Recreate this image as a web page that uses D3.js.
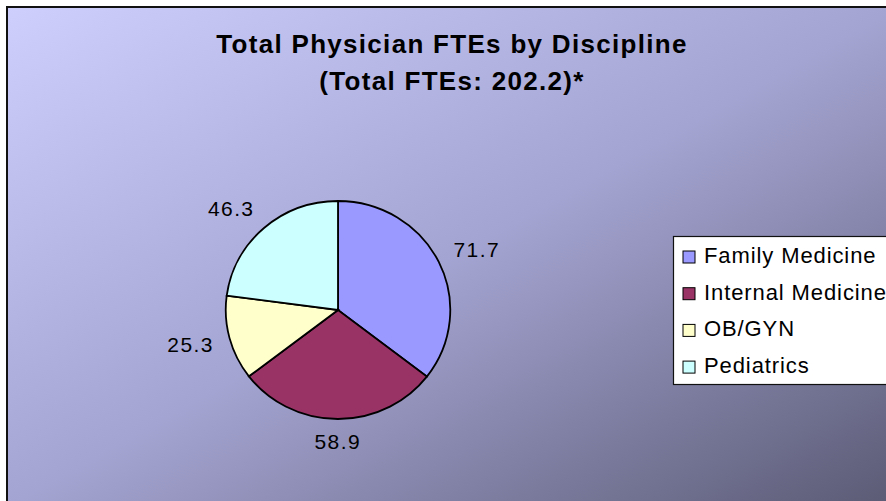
<!DOCTYPE html>
<html>
<head>
<meta charset="utf-8">
<script src="https://cdn.jsdelivr.net/npm/d3@7"></script>
<style>
	body { margin: 0; background: #fff; }
	svg text { font-family: Arial, "Liberation Sans", sans-serif; fill: #000; }
</style>
</head>
<body>
<div id="chart"></div>
<script>
// Chart data
const titleLines = ['Total Physician FTEs by Discipline', '(Total FTEs: 202.2)*'];
const disciplines = ['Family Medicine', 'Internal Medicine', 'OB/GYN', 'Pediatrics'];
const ftes = [71.7, 58.9, 25.3, 46.3];

function drawPie(container){
	const width = 886,
		height = 501,
		cx = 338,
		cy = 310,
		radius = 109,
		stretchX = 1.03;

	const svg = d3.select(container)
		.append('svg')
			.attr('width', width)
			.attr('height', height);

	// Background gradient runs corner to corner of the chart area
	const grad = svg.append('defs')
		.append('linearGradient')
			.attr('id', 'bg')
			.attr('x1', 0).attr('y1', 0)
			.attr('x2', 1).attr('y2', 1);
	grad.append('stop').attr('offset', '0%').attr('stop-color', '#cfcffd');
	grad.append('stop').attr('offset', '50%').attr('stop-color', '#a4a4d2');
	grad.append('stop').attr('offset', '100%').attr('stop-color', '#5a5a74');

	svg.append('rect')
		.attr('x', 7)
		.attr('y', 7)
		.attr('width', 892)
		.attr('height', 500)
		.style('fill', 'url(#bg)')
		.style('stroke', '#111')
		.style('stroke-width', 2);

	// Title
	svg.append('text')
		.attr('x', 452)
		.attr('text-anchor', 'middle')
		.style('font-size', '26px')
		.style('font-weight', 'bold')
		.style('letter-spacing', '1.3px')
		.selectAll('tspan')
		.data(titleLines)
		.enter()
		.append('tspan')
			.attr('x', 452)
			.attr('y', (d, i) => 53 + i * 37)
			.text(d => d);

	const color = d3.scaleOrdinal()
		.domain(disciplines)
		.range(['#9999ff', '#993366', '#ffffcc', '#ccffff']);

	const pie = d3.pie()
		.sort(null)
		.value(d => d.value);

	const data = disciplines.map((name, i) => ({name: name, value: ftes[i]}));
	const arcs = pie(data);

	const arc = d3.arc()
		.innerRadius(0)
		.outerRadius(radius);

	const pieG = svg.append('g')
		.attr('transform', `translate(${cx},${cy}) scale(${stretchX},1)`);

	pieG.selectAll('path')
		.data(arcs)
		.enter()
		.append('path')
			.attr('d', arc)
			.style('fill', d => color(d.data.name))
			.style('stroke', '#000')
			.style('stroke-width', 1.8)
			.attr('vector-effect', 'non-scaling-stroke');

	// Value labels: the label box touches a point just outside the rim
	const labelR = radius + 13,
		halfW = 26,
		halfH = 10;
	const clamp = v => Math.max(-1, Math.min(1, v * 1.4));

	svg.append('g')
		.selectAll('text')
		.data(arcs)
		.enter()
		.append('text')
			.attr('x', d => {
				const a = (d.startAngle + d.endAngle) / 2;
				return cx + Math.sin(a) * labelR * stretchX + clamp(Math.sin(a)) * halfW;
			})
			.attr('y', d => {
				const a = (d.startAngle + d.endAngle) / 2;
				return cy - Math.cos(a) * labelR - clamp(Math.cos(a)) * halfH;
			})
			.attr('dy', '0.35em')
			.attr('text-anchor', 'middle')
			.style('font-size', '21px')
			.style('letter-spacing', '1.4px')
			.text(d => d3.format('.1f')(d.data.value));

	// Legend
	const legend = svg.append('g')
		.attr('transform', 'translate(673.5,236.5)');

	legend.append('rect')
		.attr('width', 240)
		.attr('height', 148)
		.style('fill', '#fff')
		.style('stroke', '#111')
		.style('stroke-width', 1.2);

	const rows = legend.selectAll('g.row')
		.data(disciplines)
		.enter()
		.append('g')
			.classed('row', true)
			.attr('transform', (d, i) => `translate(0,${26.5 + i * 36.7})`);

	rows.append('rect')
		.attr('x', 9.5)
		.attr('y', -12)
		.attr('width', 12)
		.attr('height', 12)
		.style('fill', d => color(d))
		.style('stroke', '#000')
		.style('stroke-width', 1);

	rows.append('text')
		.attr('x', 30.5)
		.attr('y', 0)
		.style('font-size', '22px')
		.style('letter-spacing', '0.9px')
		.text(d => d);
}

drawPie('#chart');
</script>
</body>
</html>
